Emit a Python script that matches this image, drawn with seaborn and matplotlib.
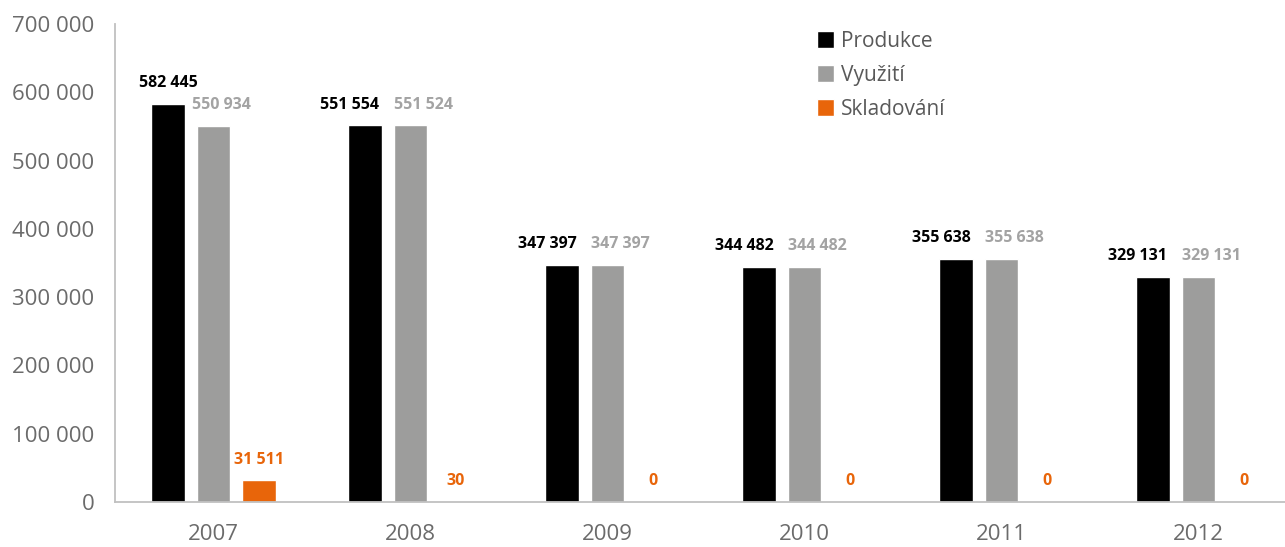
import matplotlib
matplotlib.use('Agg')
import matplotlib.pyplot as plt
import seaborn as sns
import pandas as pd

sns.set_style('white')
plt.rcParams['font.family'] = ['Open Sans', 'DejaVu Sans']

years = ['2007', '2008', '2009', '2010', '2011', '2012']
series = ['Produkce', 'Využití', 'Skladování']
produkce = [582445, 551554, 347397, 344482, 355638, 329131]
vyuziti = [550934, 551524, 347397, 344482, 355638, 329131]
skladovani = [31511, 30, 0, 0, 0, 0]
colors = ['#000000', '#9d9d9c', '#e8650a']
label_colors = ['#000000', '#a3a3a3', '#e8650a']
yticks = [0, 100000, 200000, 300000, 400000, 500000, 600000, 700000]

df = pd.DataFrame({
    'year': years * 3,
    'series': [s for s in series for _ in years],
    'value': produkce + vyuziti + skladovani,
})

fig = plt.figure(figsize=(12.85, 5.47), dpi=100)
ax = fig.add_axes([115 / 1285, 45 / 547, 1182 / 1285, 478 / 547])

sns.barplot(data=df, x='year', y='value', hue='series', hue_order=series,
            palette=colors, width=0.69, gap=0.25, errorbar=None,
            saturation=1, ax=ax)

ax.set_xlim(-0.5, 5.5)
ax.set_ylim(0, 700000)
ax.set_xlabel('')
ax.set_ylabel('')

def fmt(v):
    return f'{v:,}'.replace(',', ' ')

# data labels; when black and grey labels would collide, push them apart
for k, (cont, col) in enumerate(zip(ax.containers, label_colors)):
    for i, bar in enumerate(cont):
        h = bar.get_height()
        xc = bar.get_x() + bar.get_width() / 2
        close = abs(produkce[i] - vyuziti[i]) < 20000
        if k == 0:
            dx = -11 if close else 0
        elif k == 1:
            dx = 9 if close else 6
        else:
            dx = 0
        ax.annotate(fmt(int(round(h))), (xc, h), xytext=(dx, 15),
                    textcoords='offset points', ha='center', va='center',
                    fontsize=11.5, fontweight='bold', color=col)

ax.set_yticks(yticks)
ax.set_yticklabels([fmt(t) for t in yticks])
ax.tick_params(axis='y', length=10, color='#c0c0c0', labelsize=16,
               labelcolor='#6b6b6b', pad=5)

ax.set_xticks(range(len(years)))
ax.set_xticklabels(years)
ax.tick_params(axis='x', which='major', length=0, labelsize=16,
               labelcolor='#6b6b6b', pad=16)
ax.set_xticks([i - 0.5 for i in range(len(years) + 1)], minor=True)
ax.tick_params(axis='x', which='minor', length=9.5, color='#c0c0c0')

for side in ['top', 'right']:
    ax.spines[side].set_visible(False)
for side in ['left', 'bottom']:
    ax.spines[side].set_color('#c0c0c0')
    ax.spines[side].set_linewidth(1.3)

handles, labels = ax.get_legend_handles_labels()
ax.legend(handles, labels, loc='upper left', bbox_to_anchor=(798 / 1285, 535 / 547),
          bbox_transform=fig.transFigure, frameon=False, fontsize=15,
          handlelength=0.85, handleheight=0.85, handletextpad=0.3,
          labelspacing=0.62, labelcolor='#595959')

fig.savefig('out.png', dpi=100)
